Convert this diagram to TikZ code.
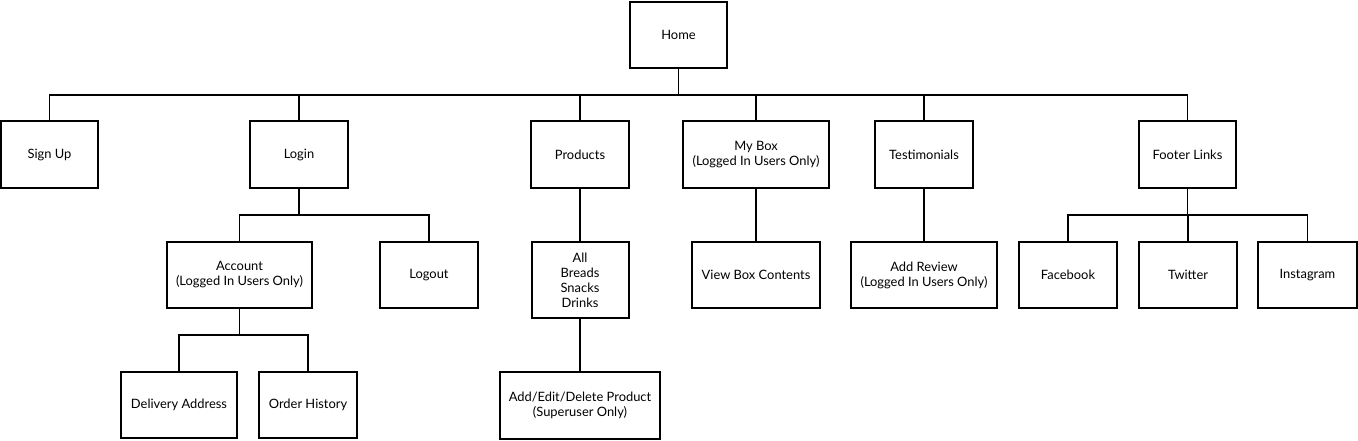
\documentclass[tikz,border=0pt]{standalone}
\usepackage{fontspec}
\setmainfont{Lato}
\begin{document}
\begin{tikzpicture}[x=1pt,y=-1pt,
  bx/.style={draw=black, line width=2pt, fill=white, align=center, inner sep=2pt,
    font=\fontsize{12.9}{15}\selectfont, text=black},
  link/.style={draw=black, line width=1.8pt}]
\useasboundingbox (0,0) rectangle (1358,440);
% level 0
\node[bx, minimum width=97, minimum height=66] (home) at (678.5,35) {Home};
% level 1
\node[bx, minimum width=97, minimum height=67] (signup) at (49.5,154.5) {Sign Up};
\node[bx, minimum width=98, minimum height=67] (login) at (299,154.5) {Login};
\node[bx, minimum width=98, minimum height=67] (products) at (580,154.5) {Products};
\node[bx, minimum width=146, minimum height=67] (mybox) at (756,154.5) {My Box\\(Logged In Users Only)};
\node[bx, minimum width=98, minimum height=67] (testim) at (924,154.5) {Testimonials};
\node[bx, minimum width=97, minimum height=67] (footer) at (1187.5,154.5) {Footer Links};
% level 2
\node[bx, minimum width=145, minimum height=66] (account) at (239.5,275) {Account\\(Logged In Users Only)};
\node[bx, minimum width=98, minimum height=66] (logout) at (429,275) {Logout};
\node[bx, minimum width=97, minimum height=76] (all) at (580,280) {All\\Breads\\Snacks\\Drinks};
\node[bx, minimum width=128, minimum height=66] (viewbox) at (756,275) {View Box Contents};
\node[bx, minimum width=146, minimum height=66] (addreview) at (924,275) {Add Review\\(Logged In Users Only)};
\node[bx, minimum width=98, minimum height=66] (facebook) at (1068,275) {Facebook};
\node[bx, minimum width=98, minimum height=66] (twitter) at (1188,275) {Twitter};
\node[bx, minimum width=99, minimum height=66] (instagram) at (1307.5,275) {Instagram};
% level 3
\node[bx, minimum width=116, minimum height=66] (delivery) at (179,405) {Delivery Address};
\node[bx, minimum width=98, minimum height=66] (orderhist) at (308,405) {Order History};
\node[bx, minimum width=160, minimum height=67] (addedit) at (580,405.5) {Add/Edit/Delete Product\\(Superuser Only)};
% bus coordinates
\coordinate (b0) at (678.5,95);
\coordinate (b1) at (299,215);
\coordinate (b2) at (239.5,335);
\coordinate (b3) at (1187.5,215);
% connectors from Home
\draw[link] (home.south) -- (b0);
\draw[link] (signup.north) |- (b0) -| (footer.north);
\draw[link] (login.north |- b0) -- (login.north);
\draw[link] (products.north |- b0) -- (products.north);
\draw[link] (mybox.north |- b0) -- (mybox.north);
\draw[link] (testim.north |- b0) -- (testim.north);
% Login subtree
\draw[link] (login.south) -- (b1);
\draw[link] (account.north) |- (b1) -| (logout.north);
\draw[link] (account.south) -- (b2);
\draw[link] (delivery.north) |- (b2) -| (orderhist.north);
% Products subtree
\draw[link] (products.south) -- (all.north);
\draw[link] (all.south) -- (addedit.north);
% My Box, Testimonials
\draw[link] (mybox.south) -- (viewbox.north);
\draw[link] (testim.south) -- (addreview.north);
% Footer
\draw[link] (footer.south) -- (b3);
\draw[link] (facebook.north) |- (b3) -| (instagram.north);
\draw[link] (twitter.north |- b3) -- (twitter.north);
\end{tikzpicture}
\end{document}
